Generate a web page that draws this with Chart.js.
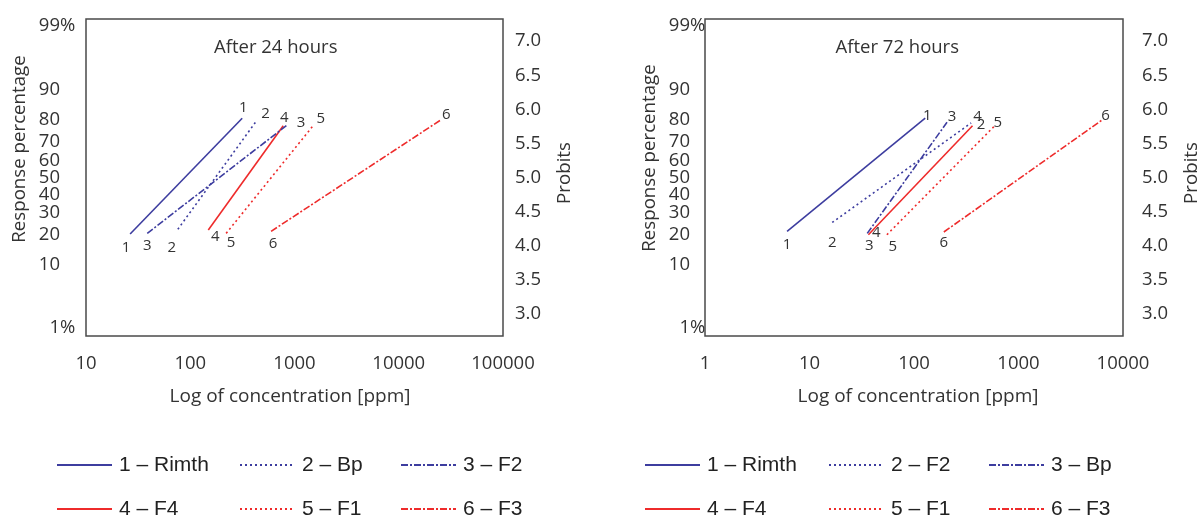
<!DOCTYPE html>
<html>
<head>
<meta charset="utf-8">
<script src="https://cdn.jsdelivr.net/npm/chart.js@4.4.1/dist/chart.umd.min.js"></script>
<style>
    html, body { margin: 0; padding: 0; background: #fff; }
    #wrap { position: relative; width: 1201px; height: 519px; overflow: hidden; }
    canvas { position: absolute; top: 0; }
    #c24 { left: 0; }
    #c72 { left: 600px; }
</style>
</head>
<body>
<div id="wrap">
    <canvas id="c24" width="600" height="519"></canvas>
    <canvas id="c72" width="601" height="519"></canvas>
</div>
<script>
// --- data ---
const LINE_IDS = ['1', '2', '3', '4', '5', '6'];
const NAMES_24 = ['1 – Rimth', '2 – Bp', '3 – F2', '4 – F4', '5 – F1', '6 – F3'];
const NAMES_72 = ['1 – Rimth', '2 – F2', '3 – Bp', '4 – F4', '5 – F1', '6 – F3'];

// line endpoints: concentration [ppm] and probit value
const CONC_START_24 = [26.5, 76, 38.7, 149, 221, 596];
const CONC_END_24 = [315, 422, 849, 780, 1528, 25600];
const PROBIT_START_24 = [4.17, 4.24, 4.18, 4.23, 4.18, 4.21];
const PROBIT_END_24 = [5.87, 5.81, 5.77, 5.76, 5.77, 5.85];

const CONC_START_72 = [6.1, 16.5, 35.7, 36.6, 55, 193];
const CONC_END_72 = [128, 352, 207, 363, 593, 6385];
const PROBIT_START_72 = [4.21, 4.34, 4.18, 4.16, 4.16, 4.20];
const PROBIT_END_72 = [5.87, 5.80, 5.81, 5.76, 5.76, 5.85];

const X_TICKS_24 = [10, 100, 1000, 10000, 100000];
const X_TICKS_72 = [1, 10, 100, 1000, 10000];
const PROBIT_TICKS = [3.0, 3.5, 4.0, 4.5, 5.0, 5.5, 6.0, 6.5, 7.0];
const PERCENT_LABELS = ['99%', '90', '80', '70', '60', '50', '40', '30', '20', '10', '1%'];
const PERCENT_PROBITS = [7.326, 6.282, 5.842, 5.524, 5.253, 5.0, 4.747, 4.476, 4.158, 3.718, 2.674];
const PROBIT_MIN = 2.674;
const PROBIT_MAX = 7.326;

// --- styles ---
const BLUE = '#3d3d9f';
const RED = '#ee2b2b';
const TEXT = '#333';
const DOT = [2, 3];
const DASHDOT = [7, 2, 2, 2];
const LINE_STYLES = [
    { color: BLUE, dash: [] },
    { color: BLUE, dash: DOT },
    { color: BLUE, dash: DASHDOT },
    { color: RED, dash: [] },
    { color: RED, dash: DOT },
    { color: RED, dash: DASHDOT },
];

Chart.defaults.font.family = '"Open Sans", "Noto Sans", sans-serif';
Chart.defaults.color = TEXT;

const decorPlugin = {
    id: 'decor',
    afterDatasetsDraw(chart, args, opts) {
        const { ctx, chartArea: a } = chart;
        const xs = chart.scales.x, ys = chart.scales.y;
        ctx.save();
        ctx.fillStyle = TEXT;

        // line number labels at both ends
        ctx.font = '15px "Open Sans"';
        ctx.textAlign = 'center';
        ctx.textBaseline = 'middle';
        chart.data.datasets.forEach((ds, i) => {
            const off = opts.labelOffsets[i];
            const p0 = ds.data[0], p1 = ds.data[1];
            ctx.fillText(ds.lineId, xs.getPixelForValue(p0.x) + off[0], ys.getPixelForValue(p0.y) + off[1]);
            ctx.fillText(ds.lineId, xs.getPixelForValue(p1.x) + off[2], ys.getPixelForValue(p1.y) + off[3]);
        });

        // panel title inside the box
        ctx.font = '18.5px "Open Sans"';
        ctx.fillText(opts.title, a.left + (a.right - a.left) * opts.titleFrac, a.top + 29);

        // percentage axis (digits aligned, % hanging)
        ctx.font = '18.5px "Open Sans"';
        const xr = a.left - opts.pctGap;
        PERCENT_LABELS.forEach((lab, i) => {
            let y = ys.getPixelForValue(PERCENT_PROBITS[i]);
            y = Math.min(Math.max(y, a.top + 7), a.bottom - 8);
            const digits = lab.replace('%', '');
            ctx.textAlign = 'right';
            ctx.fillText(digits, xr, y);
            if (lab.endsWith('%')) {
                ctx.textAlign = 'left';
                ctx.fillText('%', xr, y);
            }
        });

        // axis titles
        ctx.font = '19px "Open Sans"';
        ctx.textAlign = 'center';
        ctx.fillText('Log of concentration [ppm]', opts.xTitleX, 397);
        ctx.font = '18.7px "Open Sans"';
        ctx.save();
        ctx.translate(opts.yTitleX, opts.yTitleY);
        ctx.rotate(-Math.PI / 2);
        ctx.fillText('Response percentage', 0, 0);
        ctx.restore();
        ctx.save();
        ctx.translate(opts.probitTitleX, 173);
        ctx.rotate(-Math.PI / 2);
        ctx.fillText('Probits', 0, 0);
        ctx.restore();

        // legend below the panel
        ctx.font = '21px "Liberation Sans", Arial, sans-serif';
        ctx.textAlign = 'left';
        ctx.fillStyle = '#222';
        chart.data.datasets.forEach((ds, i) => {
            const x0 = opts.legendCols[i % 3];
            const y = opts.legendRows[Math.floor(i / 3)];
            ctx.save();
            ctx.strokeStyle = ds.borderColor;
            ctx.lineWidth = 2;
            ctx.setLineDash(ds.borderDash);
            ctx.beginPath();
            ctx.moveTo(x0, y);
            ctx.lineTo(x0 + 55, y);
            ctx.stroke();
            ctx.restore();
            ctx.fillText(ds.label, x0 + 62, y);
        });

        // frame
        ctx.strokeStyle = '#4a4a4a';
        ctx.lineWidth = 1.5;
        ctx.strokeRect(a.left, a.top, a.right - a.left, a.bottom - a.top);
        ctx.restore();
    }
};

function buildDatasets(names, c0, c1, p0, p1) {
    return names.map((name, i) => ({
        label: name,
        lineId: LINE_IDS[i],
        data: [{ x: c0[i], y: p0[i] }, { x: c1[i], y: p1[i] }],
        showLine: true,
        borderColor: LINE_STYLES[i].color,
        borderDash: LINE_STYLES[i].dash,
        borderWidth: 1.6,
        pointRadius: 0,
        fill: false,
    }));
}

function makeChart(canvasId, cfg) {
    return new Chart(document.getElementById(canvasId), {
        type: 'scatter',
        data: { datasets: buildDatasets(cfg.names, cfg.c0, cfg.c1, cfg.p0, cfg.p1) },
        options: {
            responsive: false,
            animation: false,
            layout: { padding: { top: 19, bottom: 109, left: 0, right: 0 } },
            plugins: { legend: { display: false }, tooltip: { enabled: false }, decor: cfg.decor },
            scales: {
                x: {
                    type: 'logarithmic',
                    min: cfg.xTicks[0],
                    max: cfg.xTicks[cfg.xTicks.length - 1],
                    grid: { display: false, drawTicks: true, tickLength: 17 },
                    border: { display: false },
                    afterBuildTicks: s => { s.ticks = cfg.xTicks.map(v => ({ value: v })); },
                    afterFit: s => { s.height = 74; },
                    ticks: { autoSkip: false, maxRotation: 0, padding: 0, font: { size: 18.5 }, callback: v => String(v) },
                },
                y: {
                    position: 'left',
                    min: PROBIT_MIN,
                    max: PROBIT_MAX,
                    grid: { display: false, drawTicks: false },
                    border: { display: false },
                    ticks: { display: false },
                    afterFit: s => { s.width = cfg.leftW; },
                },
                y2: {
                    position: 'right',
                    min: PROBIT_MIN,
                    max: PROBIT_MAX,
                    grid: { display: false, drawTicks: true, tickLength: cfg.probitPad },
                    border: { display: false },
                    afterBuildTicks: s => { s.ticks = PROBIT_TICKS.map(v => ({ value: v })); },
                    afterFit: s => { s.width = cfg.rightW; },
                    ticks: { padding: 0, font: { size: 18.5 }, callback: v => v.toFixed(1) },
                },
            },
        },
        plugins: [decorPlugin],
    });
}

makeChart('c24', {
    names: NAMES_24, c0: CONC_START_24, c1: CONC_END_24, p0: PROBIT_START_24, p1: PROBIT_END_24,
    xTicks: X_TICKS_24, leftW: 86, rightW: 97, probitPad: 12,
    decor: {
        title: 'After 24 hours', titleFrac: 0.455, pctGap: 26,
        xTitleX: 290, yTitleX: 20, yTitleY: 149, probitTitleX: 565,
        labelOffsets: [[-4, 14, 1, -10], [-6, 18, 10, -9], [0, 12, 14, -2], [7, 7, 1, -8], [5, 9, 7, -6], [2, 12, 5, -5]],
        legendCols: [57, 240, 401], legendRows: [465, 509],
    },
});

makeChart('c72', {
    names: NAMES_72, c0: CONC_START_72, c1: CONC_END_72, p0: PROBIT_START_72, p1: PROBIT_END_72,
    xTicks: X_TICKS_72, leftW: 105, rightW: 78, probitPad: 19,
    decor: {
        title: 'After 72 hours', titleFrac: 0.46, pctGap: 15,
        xTitleX: 318, yTitleX: 50, yTitleY: 158, probitTitleX: 592,
        labelOffsets: [[0, 13, 2, -2], [0, 20, 10, 2], [2, 12, 5, -6], [8, -2, 5, -9], [6, 12, 3, -3], [0, 11, 3, -4]],
        legendCols: [45, 229, 389], legendRows: [465, 509],
    },
});
</script>
</body>
</html>
